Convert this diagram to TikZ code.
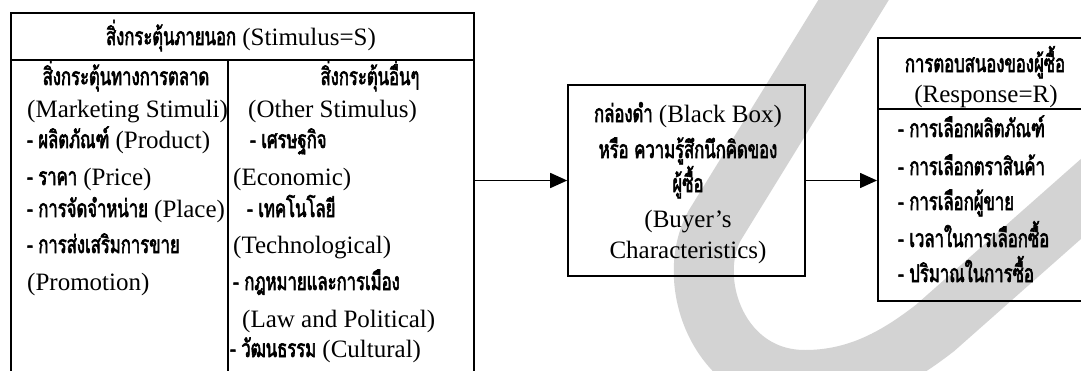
\documentclass[tikz,border=0pt]{standalone}
\usepackage{fontspec}
\setmainfont{Liberation Serif}
\newfontfamily\thaifont[Script=Thai,FakeStretch=0.68,FakeBold=2.4]{Loma}
\usetikzlibrary{arrows.meta,positioning,calc}
\definecolor{markgray}{RGB}{211,211,211}
\newcommand{\tha}[1]{{\fontsize{24.5}{27}\thaifont #1}}

\begin{document}
\begin{tikzpicture}[x=1pt,y=-1pt,
  box/.style={draw,line width=1.6pt,inner sep=0pt},
  link/.style={line width=1.6pt,-{Triangle[length=17pt,width=15pt]}},
  txt/.style={inner sep=0pt,font=\fontsize{25}{28}\selectfont}]
  \useasboundingbox (0,0) rectangle (1081,370);
  \clip (0,0) rectangle (1081,370);
  % watermark band
  \draw[markgray,line width=60pt] (872,-30) -- (715,225)
    .. controls (684,280) and (718,380) .. (805,380)
    .. controls (860,380) and (900,355) .. (935,328) -- (1125,160);

  % stimulus box
  \node[box,anchor=north west,minimum width=463pt,minimum height=400pt] (stim) at (10,12) {};
  \draw[line width=1.6pt] (10,60) -- (473,60);
  \draw[line width=1.6pt] (228,60) -- (228,412);
  \node[txt,anchor=base] (s0) at (241,45) {\tha{สิ่งกระตุ้นภายนอก} (Stimulus=S)};

  % marketing column
  \node[txt,anchor=base] (m0) at (126,85) {\tha{สิ่งกระตุ้นทางการตลาด}};
  \foreach \y/\t [count=\i] in {117/{(Marketing Stimuli)}, 148/{\tha{- ผลิตภัณฑ์} (Product)},
    185/{\tha{- ราคา} (Price)}, 217/{\tha{- การจัดจำหน่าย} (Place)},
    253/{\tha{- การส่งเสริมการขาย}}, 290/{(Promotion)}}
    \node[txt,anchor=base west] (m\i) at (27,\y) {\t};

  % other column
  \node[txt,anchor=base] (o0) at (370,85) {\tha{สิ่งกระตุ้นอื่นๆ}};
  \foreach \x/\y/\t [count=\i] in {248/117/{(Other Stimulus)}, 250/148/{\tha{- เศรษฐกิจ}},
    233/185/{(Economic)}, 247/217/{\tha{- เทคโนโลยี}}, 233/253/{(Technological)},
    233/290/{\tha{- กฎหมายและการเมือง}}, 242/327/{(Law and Political)},
    230/357/{\tha{- วัฒนธรรม} (Cultural)}}
    \node[txt,anchor=base west] (o\i) at (\x,\y) {\t};

  % black box
  \node[box,minimum width=237pt,minimum height=191pt] (bbox) at (686.5,180.5) {};
  \foreach \y/\t [count=\i] in {122/{\tha{กล่องดำ} (Black Box)}, 158/{\tha{หรือ ความรู้สึกนึกคิดของ}},
    192/{\tha{ผู้ซื้อ}}, 227/{(Buyer’s}, 258/{Characteristics)}}
    \node[txt,anchor=base] (b\i) at (688,\y) {\t};

  % response box
  \node[box,anchor=north west,minimum width=210pt,minimum height=263pt] (resp) at (877,37) {};
  \draw[line width=1.6pt] (877,109) -- (1087,109);
  \node[txt,anchor=base] (r0) at (985,72) {\tha{การตอบสนองของผู้ซื้อ}};
  \node[txt,anchor=base] (r6) at (986,102) {(Response=R)};
  \foreach \y/\t [count=\i] in {137/{- การเลือกผลิตภัณฑ์}, 175/{- การเลือกตราสินค้า},
    210/{- การเลือกผู้ขาย}, 247/{- เวลาในการเลือกซื้อ}, 282/{- ปริมาณในการซื้อ}}
    \node[txt,anchor=base west] (r\i) at (898,\y) {\tha{\t}};

  % connectors
  \draw[link] (stim.east |- bbox.west) -- (bbox.west);
  \draw[link] (bbox.east) -- (bbox.east -| resp.west);
\end{tikzpicture}
\end{document}
